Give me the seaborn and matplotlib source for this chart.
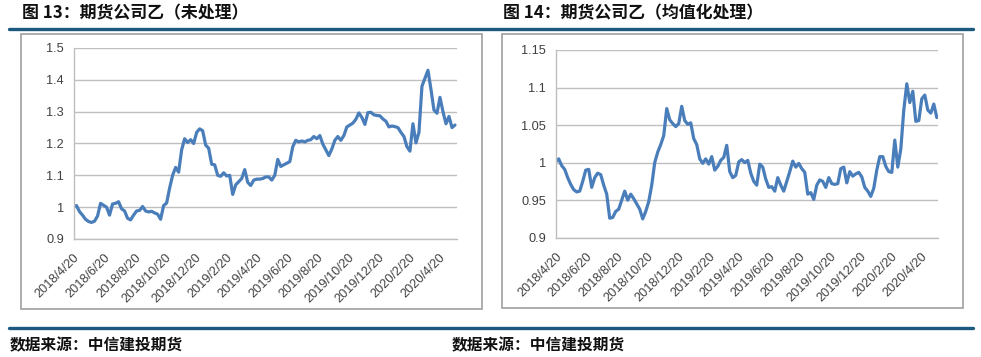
import matplotlib
matplotlib.use("Agg")
import matplotlib.pyplot as plt
from matplotlib.lines import Line2D
from matplotlib.patches import Rectangle
import seaborn as sns
import pandas as pd

# 期货公司乙 净值（未处理），约每 6 天一个读数
raw_values = [
    1.002, 1.005, 0.986, 0.975, 0.962, 0.955, 0.952, 0.956, 0.972, 1.012,
    1.006, 1.000, 0.975, 1.010, 1.012, 1.017, 0.995, 0.988, 0.965, 0.960,
    0.975, 0.988, 0.990, 1.002, 0.988, 0.985, 0.987, 0.982, 0.978, 0.962,
    1.005, 1.013, 1.060, 1.100, 1.125, 1.110, 1.180, 1.215, 1.203, 1.212,
    1.200, 1.235, 1.246, 1.240, 1.195, 1.185, 1.135, 1.133, 1.100, 1.097,
    1.108, 1.098, 1.100, 1.040, 1.070, 1.080, 1.090, 1.118, 1.078, 1.068,
    1.085, 1.088, 1.088, 1.090, 1.095, 1.095, 1.085, 1.100, 1.150, 1.128,
    1.133, 1.138, 1.143, 1.190, 1.210, 1.205, 1.208, 1.205, 1.210, 1.212,
    1.222, 1.215, 1.225, 1.198, 1.180, 1.162, 1.183, 1.210, 1.222, 1.210,
    1.225, 1.252, 1.258, 1.264, 1.276, 1.296, 1.282, 1.260, 1.297, 1.298,
    1.290, 1.288, 1.287, 1.277, 1.270, 1.252, 1.255, 1.253, 1.250, 1.235,
    1.222, 1.190, 1.176, 1.262, 1.202, 1.235, 1.380, 1.405, 1.430, 1.370,
    1.305, 1.295, 1.345, 1.300, 1.262, 1.285, 1.250, 1.258,
]

# 期货公司乙 净值（均值化处理）
avg_values = [
    1.001, 1.005, 0.996, 0.991, 0.980, 0.971, 0.964, 0.961, 0.962, 0.975,
    0.990, 0.991, 0.967, 0.980, 0.986, 0.984, 0.970, 0.958, 0.926, 0.927,
    0.935, 0.938, 0.950, 0.962, 0.950, 0.958, 0.952, 0.945, 0.938, 0.925,
    0.935, 0.948, 0.970, 1.000, 1.014, 1.024, 1.036, 1.072, 1.057, 1.052,
    1.048, 1.052, 1.075, 1.056, 1.051, 1.053, 1.032, 1.024, 1.005, 0.999,
    1.005, 0.998, 1.008, 0.990, 0.995, 1.003, 1.007, 1.023, 0.988, 0.980,
    0.983, 1.001, 1.004, 1.000, 1.003, 0.986, 0.975, 0.970, 0.998, 0.994,
    0.978, 0.967, 0.968, 0.962, 0.980, 0.970, 0.962, 0.975, 0.988, 1.002,
    0.994, 0.999, 0.992, 0.987, 0.958, 0.960, 0.951, 0.970, 0.977, 0.975,
    0.967, 0.980, 0.972, 0.971, 0.972, 0.992, 0.994, 0.973, 0.988, 0.982,
    0.985, 0.987, 0.981, 0.967, 0.962, 0.955, 0.966, 0.990, 1.008, 1.008,
    0.995, 0.988, 0.987, 1.030, 0.994, 1.018, 1.070, 1.105, 1.080, 1.095,
    1.055, 1.056, 1.085, 1.090, 1.070, 1.066, 1.078, 1.060,
]

tick_labels = [
    "2018/4/20", "2018/6/20", "2018/8/20", "2018/10/20", "2018/12/20",
    "2019/2/20", "2019/4/20", "2019/6/20", "2019/8/20", "2019/10/20",
    "2019/12/20", "2020/2/20", "2020/4/20",
]
raw_yticks = [0.9, 1.0, 1.1, 1.2, 1.3, 1.4, 1.5]
raw_ylabels = ["0.9", "1", "1.1", "1.2", "1.3", "1.4", "1.5"]
avg_yticks = [0.9, 0.95, 1.0, 1.05, 1.1, 1.15]
avg_ylabels = ["0.9", "0.95", "1", "1.05", "1.1", "1.15"]

title_left = "图 13：期货公司乙（未处理）"
title_right = "图 14：期货公司乙（均值化处理）"
source_text = "数据来源：中信建投期货"

dates = pd.date_range("2018-04-20", periods=len(raw_values), freq="6D")
tick_dates = pd.to_datetime(tick_labels, format="%Y/%m/%d")

LINE_COLOR = "#4A7EBB"
BAR_COLOR = "#1B5A7E"
GRID_COLOR = "#BFBFBF"
TEXT_COLOR = "#404040"

sns.set_style("white")
plt.rcParams["font.family"] = ["Noto Sans CJK SC", "DejaVu Sans"]

W, H = 981, 357
fig = plt.figure(figsize=(W / 100, H / 100), dpi=100)


def fx(px):
    return px / W


def fy(py):
    return 1 - py / H


def draw_panel(ax, values, yticks, ylabels):
    df = pd.DataFrame({"date": dates, "value": values})
    sns.lineplot(data=df, x="date", y="value", ax=ax, color=LINE_COLOR, linewidth=2.3)
    ax.set_xlim(dates[0], dates[-1] + pd.Timedelta(days=3))
    ax.set_ylim(yticks[0], yticks[-1])
    ax.set_yticks(yticks)
    ax.set_yticklabels(ylabels, family=["Liberation Sans"])
    ax.set_xticks(tick_dates)
    ax.set_xticklabels(tick_labels, rotation=45, ha="right", rotation_mode="anchor",
                       family=["Liberation Sans"])
    ax.yaxis.grid(True, color=GRID_COLOR, linewidth=1)
    ax.xaxis.grid(False)
    ax.set_axisbelow(True)
    for side in ("top", "right"):
        ax.spines[side].set_visible(False)
    for side in ("left", "bottom"):
        ax.spines[side].set_color(GRID_COLOR)
        ax.spines[side].set_linewidth(1)
    ax.tick_params(axis="both", direction="out", length=4, width=1, color=GRID_COLOR,
                   labelcolor=TEXT_COLOR, labelsize=9.2, pad=3)
    ax.tick_params(axis="x", pad=5)
    ax.set_xlabel("")
    ax.set_ylabel("")
    ax.patch.set_alpha(0)


ax1 = fig.add_axes([fx(73.5), fy(239), fx(456.5) - fx(73.5), fy(48) - fy(239)])
draw_panel(ax1, raw_values, raw_yticks, raw_ylabels)

ax2 = fig.add_axes([fx(555.7), fy(237.7), fx(938.3) - fx(555.7), fy(50) - fy(237.7)])
draw_panel(ax2, avg_values, avg_yticks, avg_ylabels)

# chart frames
for x0, x1, y0, y1 in [(21, 481.5, 33.5, 309), (502, 963, 33.5, 308)]:
    fig.add_artist(Rectangle((fx(x0), fy(y1)), fx(x1) - fx(x0), fy(y0) - fy(y1),
                             transform=fig.transFigure, fill=False,
                             edgecolor="#A0A0A0", linewidth=1.2, zorder=0))

# header / footer rules
for yy in (29.3, 327.7):
    fig.add_artist(Line2D([fx(9), fx(973)], [fy(yy), fy(yy)], transform=fig.transFigure,
                          color=BAR_COLOR, linewidth=2.4))

fig.text(fx(21.5), fy(13), title_left, fontsize=12.2, fontweight="bold",
         color="#111111", va="center", ha="left")
fig.text(fx(503), fy(13), title_right, fontsize=12.2, fontweight="bold",
         color="#111111", va="center", ha="left")

fig.text(fx(10), fy(345), source_text, fontsize=11.3, fontweight="bold",
         style="italic", color="#111111", va="center", ha="left")
fig.text(fx(452), fy(345), source_text, fontsize=11.3, fontweight="bold",
         style="italic", color="#111111", va="center", ha="left")

fig.savefig("out.png", dpi=100)
plt.close(fig)
